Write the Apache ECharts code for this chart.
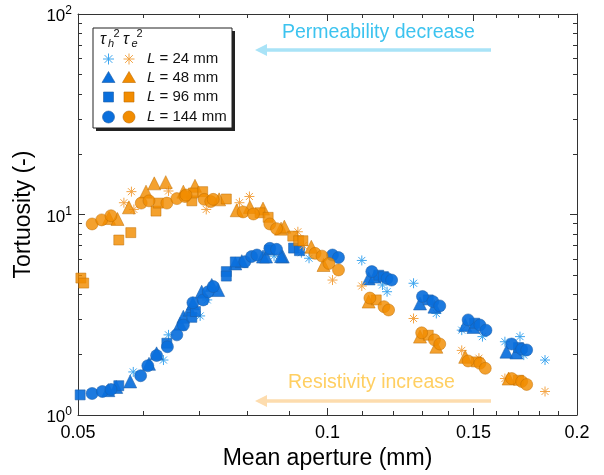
<!DOCTYPE html>
<html>
<head>
<meta charset="utf-8">
<script src="https://cdn.jsdelivr.net/npm/echarts@6/dist/echarts.min.js"></script>
<style>
  html, body { margin: 0; padding: 0; background: #fff; }
  #chart { width: 604px; height: 475px; }
</style>
</head>
<body>
<div id="chart"></div>
<script>
// axis ticks
const xMajorTicks = [0.05, 0.1, 0.15, 0.2]
const xMinorTicks = [0.06, 0.07, 0.08, 0.09, 0.11, 0.12, 0.13, 0.14, 0.16, 0.17, 0.18, 0.19]
const yMajorTicks = [1, 10, 100]
const yMinorTicks = [2, 3, 4, 5, 6, 7, 8, 9, 20, 30, 40, 50, 60, 70, 80, 90]
const sampleLengths = [24, 48, 96, 144]

// hydraulic tortuosity tau_h^2  [mean aperture (mm), tortuosity]
const tauH_L24 = [[0.0583,1.64],[0.0634,1.88],[0.0643,2.51],[0.0702,3.12],[0.0716,3.75],[0.0862,6.20],[0.0930,6.45],[0.0950,6.05],
  [0.1100,5.90],[0.1165,4.45],[0.1180,4.12],[0.1270,4.54],[0.1353,3.21],[0.1452,2.65],[0.1538,2.46],[0.1637,2.32],[0.1707,2.46],[0.1725,1.99],[0.1830,1.88]]
const tauH_L48 = [[0.0544,1.33],[0.0556,1.38],[0.0578,1.47],[0.0609,1.80],[0.0622,2.03],[0.0664,2.85],[0.0670,3.09],[0.0682,3.35],[0.0688,3.60],
  [0.0705,4.12],[0.0725,4.45],[0.0738,4.20],[0.0774,5.70],[0.0788,5.85],[0.0836,6.17],[0.0843,6.17],[0.0883,6.17],[0.0879,6.20],
  [0.1121,4.80],[0.1140,4.90],[0.1293,3.60],[0.1346,3.47],[0.1466,2.81],[0.1500,2.75],[0.1644,2.07],[0.1690,2.05]]
const tauH_L96 = [[0.0503,1.26],[0.0560,1.40],[0.0640,2.28],[0.0686,3.07],[0.0693,3.28],[0.0755,5.19],[0.0755,4.93],[0.0774,5.80],[0.0852,6.65],
  [0.0910,6.80],[0.0925,6.60],[0.1153,4.98],[0.1168,4.90],[0.1323,3.75],[0.1505,2.87],[0.1700,2.17]]
const tauH_L144 = [[0.0520,1.28],[0.0535,1.31],[0.0548,1.34],[0.0595,1.57],[0.0607,1.76],[0.0622,1.98],[0.0641,2.19],[0.0658,2.51],[0.0670,2.81],
  [0.0688,3.63],[0.0708,3.75],[0.0718,4.12],[0.0728,4.37],[0.0795,5.82],[0.0810,6.17],[0.0822,6.28],[0.0852,6.78],[0.0868,6.70],
  [0.1014,6.28],[0.1031,6.10],[0.1131,5.19],[0.1180,4.80],[0.1195,4.71],[0.1302,3.90],[0.1340,3.68],[0.1366,3.50],
  [0.1478,2.98],[0.1527,2.81],[0.1553,2.65],[0.1668,2.26],[0.1715,2.13],[0.1739,2.11]]

// electrical tortuosity tau_e^2
const tauE_L24 = [[0.0568,11.45],[0.0580,13.0],[0.0584,10.6],[0.0643,13.1],[0.0714,10.6],[0.0783,11.45],[0.0805,12.3],[0.0921,8.2],[0.0935,7.0],
  [0.1014,4.71],[0.1100,4.40],[0.1270,3.03],[0.1452,2.10],[0.1523,1.92],[0.1637,1.52],[0.1830,1.31]]
const tauE_L48 = [[0.0545,9.6],[0.0558,9.5],[0.0576,10.86],[0.0604,13.0],[0.0618,14.3],[0.0638,14.5],[0.0670,13.0],[0.0692,13.9],[0.0740,11.9],
  [0.0777,10.5],[0.0806,10.9],[0.0836,10.7],[0.0879,8.5],[0.0887,8.7],[0.0956,6.9],[0.0989,5.6],
  [0.1121,3.68],[0.1293,2.46],[0.1353,2.19],[0.1466,1.95],[0.1654,1.52]]
const tauE_L96 = [[0.0504,4.82],[0.0508,4.55],[0.0560,7.46],[0.0579,8.12],[0.0621,10.4],[0.0625,11.4],[0.0686,11.7],[0.0689,12.8],[0.0707,13.0],
  [0.0755,11.95],[0.0829,10.2],[0.0848,9.68],[0.0908,7.80],[0.0923,7.40],[0.0934,7.40],[0.1145,3.75],[0.1323,2.50],[0.1512,1.84],[0.1700,1.49]]
const tauE_L144 = [[0.0520,8.97],[0.0534,9.40],[0.0548,9.86],[0.0596,11.4],[0.0609,11.7],[0.0640,11.4],[0.0658,12.0],[0.0673,12.3],[0.0675,12.5],
  [0.0710,11.9],[0.0723,11.6],[0.0728,11.9],[0.0791,10.3],[0.0814,10.06],[0.0852,8.97],[0.0868,8.50],
  [0.0966,6.40],[0.0985,6.20],[0.1004,5.70],[0.1031,5.29],[0.1125,3.83],[0.1170,3.47],[0.1185,3.34],
  [0.1299,2.57],[0.1346,2.37],[0.1366,2.26],[0.1478,1.86],[0.1527,1.81],[0.1550,1.71],[0.1668,1.52],[0.1715,1.47],[0.1739,1.42]]

const FONT = '"Liberation Sans", Arial, Helvetica, sans-serif'
const AXIS_COLOR = '#333333'
const ASTERISK = 'path://M0,5L10,5M5,0L5,10M1.5,1.5L8.5,8.5M1.5,8.5L8.5,1.5'

const BLUE = '#0a6fdc', BLUE_EDGE = '#1d5ea8', BLUE_LIGHT = '#3ea6ef'
const ORANGE = '#f28c00', ORANGE_EDGE = '#c06c00', ORANGE_LIGHT = '#f3a445'

const chart = echarts.init(document.getElementById('chart'), null, { renderer: 'canvas' })

function scatter(data, symbol, size, color, edge, opacity) {
  const isStar = symbol === ASTERISK
  return {
    type: 'scatter',
    data: data,
    symbol: symbol,
    symbolSize: size,
    xAxisIndex: 0,
    yAxisIndex: 0,
    itemStyle: {
      color: color,
      borderColor: isStar ? color : edge,
      borderWidth: isStar ? 1 : 0.6,
      opacity: opacity,
    },
    emphasis: { disabled: true },
  }
}

function logAxis(extra) {
  return Object.assign({
    type: 'log',
    logBase: 10,
    splitLine: { show: false },
    axisLine: { show: false },
    axisLabel: { show: false },
    axisTick: { show: false },
  }, extra)
}

function tickSet(values, len) {
  return { show: true, inside: true, length: len, customValues: values, lineStyle: { color: AXIS_COLOR, width: 1 } }
}

const lineShown = { show: true, lineStyle: { color: AXIS_COLOR, width: 1 } }
const xRange = { min: 0.05, max: 0.2 }
const yRange = { min: 1, max: 100 }

// legend box and arrows
function legendMark(kind, cx, cy, fill, stroke) {
  const style = { fill: fill, stroke: stroke, lineWidth: 0.6 }
  if (kind === 'star') {
    const r = 5.5
    return {
      type: 'group', z: 20,
      children: [0, 45, 90, 135].map(a => {
        const t = a * Math.PI / 180
        return { type: 'line', z: 20, shape: { x1: cx - r * Math.cos(t), y1: cy - r * Math.sin(t), x2: cx + r * Math.cos(t), y2: cy + r * Math.sin(t) },
          style: { stroke: fill, lineWidth: 1 } }
      })
    }
  }
  if (kind === 'tri') return { type: 'polygon', z: 20, shape: { points: [[cx, cy - 6.5], [cx + 6.5, cy + 4.5], [cx - 6.5, cy + 4.5]] }, style }
  if (kind === 'sq') return { type: 'rect', z: 20, shape: { x: cx - 5, y: cy - 5, width: 10, height: 10 }, style }
  return { type: 'circle', z: 20, shape: { cx: cx, cy: cy, r: 6 }, style }
}

const legendKinds = ['star', 'tri', 'sq', 'circ']
const legendRowsY = [59, 78, 97, 117]
const legendGraphics = [
  { type: 'rect', z: 18, shape: { x: 96, y: 31, width: 139, height: 100 }, style: { fill: '#222' } },
  { type: 'rect', z: 19, shape: { x: 93, y: 28, width: 139, height: 100 }, style: { fill: '#fff', stroke: '#222', lineWidth: 1 } },
  { type: 'text', z: 20, style: { x: 100, y: 40, text: 'τ', font: 'italic 16px ' + FONT, fill: '#111', verticalAlign: 'middle' } },
  { type: 'text', z: 20, style: { x: 108, y: 44, text: 'h', font: 'italic 11px ' + FONT, fill: '#111', verticalAlign: 'middle' } },
  { type: 'text', z: 20, style: { x: 113.5, y: 34, text: '2', font: '11px ' + FONT, fill: '#111', verticalAlign: 'middle' } },
  { type: 'text', z: 20, style: { x: 123, y: 40, text: 'τ', font: 'italic 16px ' + FONT, fill: '#111', verticalAlign: 'middle' } },
  { type: 'text', z: 20, style: { x: 131.5, y: 44, text: 'e', font: 'italic 11px ' + FONT, fill: '#111', verticalAlign: 'middle' } },
  { type: 'text', z: 20, style: { x: 136.5, y: 34, text: '2', font: '11px ' + FONT, fill: '#111', verticalAlign: 'middle' } },
]
sampleLengths.forEach((L, i) => {
  const y = legendRowsY[i]
  const kind = legendKinds[i]
  legendGraphics.push(legendMark(kind, 108.5, y, kind === 'star' ? BLUE_LIGHT : BLUE, BLUE_EDGE))
  legendGraphics.push(legendMark(kind, 129, y, kind === 'star' ? ORANGE_LIGHT : ORANGE, ORANGE_EDGE))
  legendGraphics.push({
    type: 'text', z: 20,
    style: {
      x: 147, y: y, verticalAlign: 'middle',
      text: '{i|L} = ' + L + ' mm',
      font: '15px ' + FONT, fill: '#111',
      rich: { i: { fontStyle: 'italic', fontSize: 15, fontFamily: FONT, color: '#111' } },
    }
  })
})

const arrowGraphics = [
  { type: 'line', z: 5, shape: { x1: 264, y1: 50, x2: 491, y2: 50 }, style: { stroke: '#a9e3f7', lineWidth: 3.5 } },
  { type: 'polygon', z: 5, shape: { points: [[255, 50], [267, 44], [267, 56]] }, style: { fill: '#a9e3f7' } },
  { type: 'text', z: 5, style: { x: 282, y: 33, text: 'Permeability decrease', font: '19.5px ' + FONT, fill: '#3cc3ef', verticalAlign: 'middle' } },
  { type: 'line', z: 5, shape: { x1: 264, y1: 401, x2: 491, y2: 401 }, style: { stroke: '#fddcae', lineWidth: 3.5 } },
  { type: 'polygon', z: 5, shape: { points: [[255, 401], [267, 395], [267, 407]] }, style: { fill: '#fddcae' } },
  { type: 'text', z: 5, style: { x: 288, y: 383, text: 'Resistivity increase', font: '19.5px ' + FONT, fill: '#ffcf62', verticalAlign: 'middle' } },
]

const option = {
  backgroundColor: '#fff',
  animation: false,
  grid: { left: 78, right: 27, top: 14, bottom: 60, containLabel: false, outerBoundsMode: 'none' },
  xAxis: [
    logAxis(Object.assign({}, xRange, {
      position: 'bottom',
      axisLine: lineShown,
      axisTick: tickSet(xMajorTicks, 7),
      axisLabel: { show: true, customValues: xMajorTicks, formatter: v => String(+v.toFixed(2)), fontSize: 18, color: '#000', margin: 9, fontFamily: FONT },
      name: 'Mean aperture (mm)', nameLocation: 'middle', nameGap: 32,
      nameTextStyle: { fontSize: 23, color: '#000', fontFamily: FONT },
    })),
    logAxis(Object.assign({}, xRange, { position: 'bottom', axisTick: tickSet(xMinorTicks, 4) })),
    logAxis(Object.assign({}, xRange, { position: 'top', axisLine: lineShown, axisTick: tickSet(xMajorTicks, 7) })),
    logAxis(Object.assign({}, xRange, { position: 'top', axisTick: tickSet(xMinorTicks, 4) })),
  ],
  yAxis: [
    logAxis(Object.assign({}, yRange, {
      position: 'left',
      axisLine: lineShown,
      axisTick: tickSet(yMajorTicks, 7),
      axisLabel: {
        show: true, customValues: yMajorTicks, margin: 6,
        formatter: v => '{b|10}{s|' + Math.round(Math.log10(v)) + '}',
        rich: {
          b: { fontSize: 17, color: '#000', fontFamily: FONT, padding: [5, 0, 0, 0] },
          s: { fontSize: 12, color: '#000', fontFamily: FONT, padding: [0, 0, 6, 0] },
        },
      },
      name: 'Tortuosity (-)', nameLocation: 'middle', nameGap: 42, nameRotate: 90,
      nameTextStyle: { fontSize: 23, color: '#000', fontFamily: FONT },
    })),
    logAxis(Object.assign({}, yRange, { position: 'left', axisTick: tickSet(yMinorTicks, 4) })),
    logAxis(Object.assign({}, yRange, { position: 'right', axisLine: lineShown, axisTick: tickSet(yMajorTicks, 7) })),
    logAxis(Object.assign({}, yRange, { position: 'right', axisTick: tickSet(yMinorTicks, 4) })),
  ],
  series: [
    scatter(tauH_L24, ASTERISK, 10, BLUE_LIGHT, BLUE_LIGHT, 1),
    scatter(tauH_L48, 'triangle', 13, BLUE, BLUE_EDGE, 0.92),
    scatter(tauH_L96, 'rect', 10, BLUE, BLUE_EDGE, 0.92),
    scatter(tauH_L144, 'circle', 12, BLUE, BLUE_EDGE, 0.92),
    scatter(tauE_L24, ASTERISK, 10, ORANGE_LIGHT, ORANGE_LIGHT, 1),
    scatter(tauE_L48, 'triangle', 13, ORANGE, ORANGE_EDGE, 0.82),
    scatter(tauE_L96, 'rect', 10, ORANGE, ORANGE_EDGE, 0.82),
    scatter(tauE_L144, 'circle', 12, ORANGE, ORANGE_EDGE, 0.82),
  ],
  graphic: arrowGraphics.concat(legendGraphics),
}

chart.setOption(option)
</script>
</body>
</html>
